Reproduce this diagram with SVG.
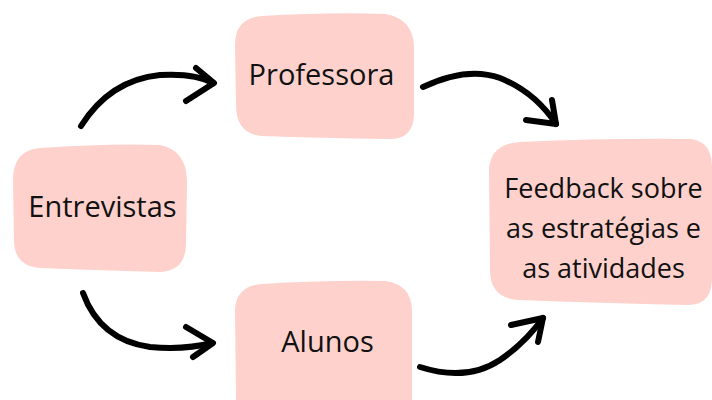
<svg xmlns="http://www.w3.org/2000/svg" width="712" height="400" viewBox="0 0 712 400">
<style>
.box{fill:#ffd1cc;stroke:none}
.lbl{font-family:"Open Sans","Noto Sans",sans-serif;font-size:29px;fill:#111;text-anchor:middle}
.lbl2{font-family:"Open Sans","Noto Sans",sans-serif;font-size:27px;fill:#111;text-anchor:middle}
.arr{fill:none;stroke:#000;stroke-width:6;stroke-linecap:round;stroke-linejoin:round}
</style>
<rect width="712" height="400" fill="#fff"/>
<g id="entrevistas">
<path class="box" d="M 40 148 Q 110 143 160 145 Q 186 150 187 180 L 186 245 Q 185 271 160 272 Q 90 270 40 268 Q 14 266 14 240 L 13 180 Q 13 150 40 148 Z"/>
<text class="lbl" x="102.5" y="217">Entrevistas</text>
</g>
<g id="professora">
<path class="box" d="M 262 16 Q 330 12 385 14 Q 412 18 414 45 L 414 115 Q 413 140 388 139 Q 320 138 262 136 Q 236 134 236 105 L 235 45 Q 235 18 262 16 Z"/>
<text class="lbl" x="321.5" y="85">Professora</text>
</g>
<g id="feedback">
<path class="box" d="M 520 142 Q 610 138 690 139 Q 711 141 712 165 L 712 280 Q 711 305 688 305 Q 600 303 518 300 Q 490 298 490 270 L 489 170 Q 490 144 520 142 Z"/>
<text class="lbl2" x="603.5" y="198">Feedback sobre</text>
<text class="lbl2" x="603.5" y="238">as estratégias e</text>
<text class="lbl2" x="603.5" y="278">as atividades</text>
</g>
<g id="alunos">
<path class="box" d="M 262 284 Q 330 280 385 281 Q 411 284 412 310 L 412 400 L 236 400 L 235 310 Q 236 286 262 284 Z"/>
<text class="lbl" x="327.5" y="352">Alunos</text>
</g>
<g id="connectors">
<path class="arr" d="M 81 126 Q 110 80 160 75 Q 195 73 213 83"/>
<path class="arr" d="M 196 68 L 214 83 L 186 101"/>
<path class="arr" d="M 423 87 Q 467 66 500 78 Q 535 92 556 124"/>
<path class="arr" d="M 552 100 L 556 124 L 526 120"/>
<path class="arr" d="M 83 293 Q 100 340 150 347 Q 185 350 212 343"/>
<path class="arr" d="M 186 327 L 213 343 L 193 357"/>
<path class="arr" d="M 420 367 Q 467 382 500 360 Q 525 343 543 318"/>
<path class="arr" d="M 511 325 L 543 318 L 538 342"/>
</g>
</svg>
